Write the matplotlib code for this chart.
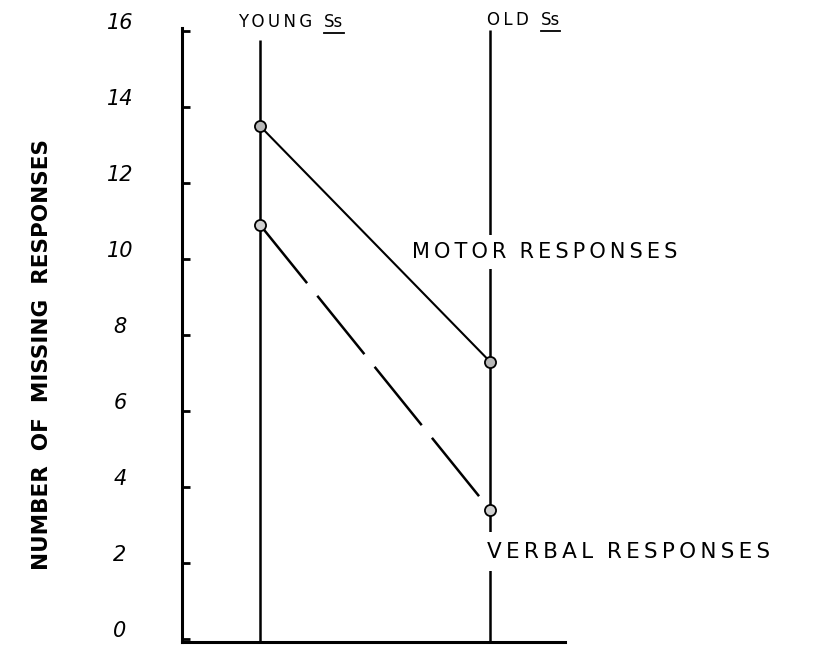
import matplotlib
matplotlib.use("Agg")
import matplotlib.pyplot as plt
from matplotlib.lines import Line2D

plt.rcParams['font.family'] = ['DejaVu Sans']

# data
groups = ["YOUNG", "OLD"]
group_x = [1, 2]
motor = [13.5, 7.3]
verbal = [10.9, 3.4]
yticks = [0, 2, 4, 6, 8, 10, 12, 14, 16]
line_tops = [15.76, 16.03]   # where the hand-drawn group lines stop


def spaced(s):
    # widen the lettering a bit, like the hand printing
    return "\u2009".join(s)


fig = plt.figure(figsize=(8.15, 6.48), dpi=100)
ax = fig.add_axes([182 / 815, 1 - 642 / 648, (565 - 182) / 815, (642 - 28) / 648])
ax.set_xlim(0.661, 2.326)
ax.set_ylim(-0.08, 16.08)

for s in ["top", "right"]:
    ax.spines[s].set_visible(False)
for s in ["left", "bottom"]:
    ax.spines[s].set_linewidth(2.2)
ax.set_xticks([])
ax.set_yticks(yticks)
ax.set_yticklabels([])
ax.tick_params(axis="y", direction="in", length=6, width=2)

# tick numbers, drawn a bit above their ticks
for v in yticks:
    ax.text(-0.162, v + 0.22, str(v), transform=ax.get_yaxis_transform(),
            ha="center", va="center", fontsize=15, style="italic")

# vertical group lines
for x, top in zip(group_x, line_tops):
    ax.vlines(x, -0.08, top, color="black", lw=1.8, zorder=1)

ax.plot(group_x, motor, color="black", lw=1.5, marker="o", ms=8,
        mfc="#b8b8b8", mec="black", mew=1.3, zorder=2)
ax.plot(group_x, verbal, color="black", lw=1.8, dashes=(30, 6.5),
        marker="o", ms=8, mfc="#d0d0d0", mec="black", mew=1.3, zorder=2)

ax.text(1.661, 10.18, spaced("MOTOR") + "  " + spaced("RESPONSES"),
        fontsize=15, ha="left", va="center", zorder=3,
        bbox=dict(facecolor="white", edgecolor="none", pad=5))
ax.text(1.987, 2.30, spaced("VERBAL") + "  " + spaced("RESPONSES"),
        fontsize=15.5, ha="left", va="center", zorder=3,
        bbox=dict(facecolor="white", edgecolor="none", pad=7))

# group headings with underlined Ss
heads = []
heads.append(fig.text(238 / 815, 1 - 22 / 648, spaced(groups[0]), fontsize=12, va="center"))
heads.append(fig.text(487 / 815, 1 - 20 / 648, spaced(groups[1]), fontsize=12, va="center"))
fig.canvas.draw()
r = fig.canvas.get_renderer()
for t in heads:
    bb = t.get_window_extent(r)
    x0 = bb.x1 + 12
    ss = fig.text(x0 / 815, t.get_position()[1], "Ss", fontsize=12, va="center")
    fig.canvas.draw()
    sb = ss.get_window_extent(r)
    fig.add_artist(Line2D([sb.x0 / 815, sb.x1 / 815], [(sb.y0 - 2) / 648] * 2,
                          transform=fig.transFigure, color="black", lw=1.3))

fig.text(42 / 815, 1 - 355 / 648, "NUMBER  OF  MISSING  RESPONSES", rotation=90,
         fontsize=15.5, fontweight="bold", ha="center", va="center")

fig.savefig("out.png", dpi=100, facecolor="white")
